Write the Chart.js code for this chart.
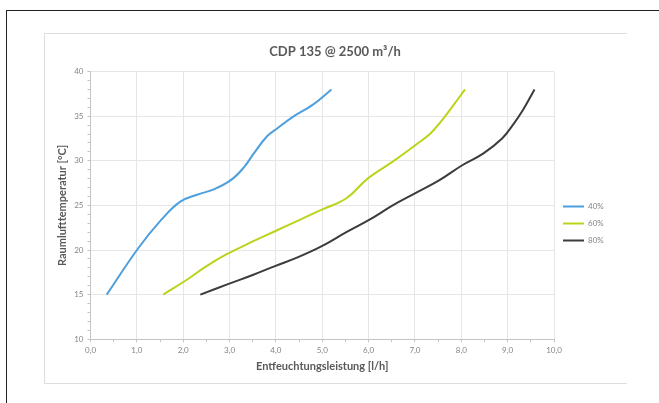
<!doctype html>
<html>
    <head>
        <meta charset="utf-8" />
        <title>CDP 135 @ 2500 m³/h</title>
        <script src="https://cdn.jsdelivr.net/npm/chart.js"></script>
        <style>
            html,
            body {
                margin: 0;
                padding: 0;
                background: #fff;
            }
            body {
                position: relative;
                width: 659px;
                height: 403px;
                overflow: hidden;
            }
            #frame {
                position: absolute;
                left: 6px;
                top: 10px;
                width: 700px;
                height: 500px;
                border-left: 1.5px solid #222;
                border-top: 1.5px solid #222;
            }
            #box {
                position: absolute;
                left: 44px;
                top: 33px;
                width: 582px;
                height: 349px;
                border-top: 1px solid #dedede;
                border-left: 1px solid #dedede;
                border-bottom: 1px solid #dedede;
            }
            #chart {
                position: absolute;
                left: 44px;
                top: 33px;
            }
        </style>
    </head>
    <body>
        <div id="frame"></div>
        <div id="box"></div>
        <canvas id="chart" width="582" height="351"></canvas>
        <script>
            // values
            const titleText = "CDP 135 @ 2500 m³/h";
            const xTitle = "Entfeuchtungsleistung [l/h]";
            const yTitle = "Raumlufttemperatur [°C]";

            const seriesNames = ["40%", "60%", "80%"];
            const seriesColors = ["#4d9fdd", "#bcd31a", "#3c3c3e"];

            const x40 = [0.35, 1.03, 1.53, 1.93, 2.3, 2.66, 3.02, 3.3, 3.52, 3.8, 4.02, 4.39, 4.8, 5.2];
            const y40 = [15, 20.2, 23.4, 25.4, 26.2, 26.8, 27.8, 29.2, 30.8, 32.7, 33.6, 35, 36.3, 38];

            const x60 = [1.57, 2.03, 2.48, 2.93, 3.48, 3.98, 4.48, 4.98, 5.52, 5.98, 6.52, 7.02, 7.34, 7.56, 7.84, 8.08];
            const y60 = [15, 16.5, 18.1, 19.5, 20.9, 22.1, 23.3, 24.5, 25.8, 28, 29.9, 31.8, 33.1, 34.4, 36.3, 38];

            const x80 = [2.37, 2.98, 3.5, 3.98, 4.48, 4.98, 5.52, 6.02, 6.52, 7.02, 7.52, 8.02, 8.47, 8.88, 9.11, 9.33, 9.58];
            const y80 = [15, 16.2, 17.2, 18.2, 19.2, 20.4, 22, 23.4, 25, 26.4, 27.8, 29.5, 30.8, 32.5, 34, 35.7, 38];

            const xMin = 0, xMax = 10, xMajor = 1, xMinor = 0.5;
            const yMin = 10, yMax = 40, yMajor = 5, yMinor = 1;

            const allX = [x40, x60, x80];
            const allY = [y40, y60, y80];

            const isMajor = (v, step) => Math.abs(v / step - Math.round(v / step)) < 1e-9;
            const gridColor = "#e6e6e6";
            const axisColor = "#c4c4c4";
            const tickText = "#858585";
            const titleColor = "#595959";

            Chart.defaults.font.family = "Lato, 'Open Sans', sans-serif";

            const ctx = document.getElementById("chart").getContext("2d");
            const chart = new Chart(ctx, {
                type: "scatter",
                data: {
                    datasets: seriesNames.map((name, i) => ({
                        label: name,
                        data: allX[i].map((x, j) => ({ x: x, y: allY[i][j] })),
                        showLine: true,
                        borderColor: seriesColors[i],
                        backgroundColor: seriesColors[i],
                        borderWidth: 2,
                        pointRadius: 0,
                        tension: 0.4,
                    })),
                },
                options: {
                    responsive: false,
                    animation: false,
                    layout: {
                        padding: { left: 0, right: 0, top: 0, bottom: 11 },
                    },
                    plugins: {
                        title: {
                            display: true,
                            text: titleText,
                            color: titleColor,
                            font: { size: 13, weight: "bold" },
                            padding: { top: 11, bottom: 12 },
                        },
                        legend: {
                            position: "right",
                            title: {
                                display: true,
                                text: "",
                                font: { size: 1 },
                                padding: { top: 40, bottom: 0 },
                            },
                            labels: {
                                usePointStyle: true,
                                pointStyle: "line",
                                pointStyleWidth: 21,
                                padding: 9,
                                color: tickText,
                                font: { size: 8 },
                            },
                        },
                        tooltip: { enabled: false },
                    },
                    scales: {
                        x: {
                            type: "linear",
                            min: xMin,
                            max: xMax,
                            border: { color: axisColor },
                            grid: {
                                color: (c) =>
                                    c.tick && isMajor(c.tick.value, xMajor) ? gridColor : "rgba(0,0,0,0)",
                                tickColor: axisColor,
                                tickLength: 3,
                            },
                            ticks: {
                                stepSize: xMinor,
                                autoSkip: false,
                                maxRotation: 0,
                                padding: 3,
                                color: tickText,
                                font: { size: 8 },
                                callback: (v) =>
                                    isMajor(v, xMajor) ? v.toFixed(1).replace(".", ",") : "",
                            },
                            title: {
                                display: true,
                                text: xTitle,
                                color: titleColor,
                                font: { size: 11, weight: "bold" },
                                padding: { top: 2, bottom: 0 },
                            },
                            afterFit: (s) => {
                                // keep a gap between the plot and the legend
                                s.paddingRight = 72;
                            },
                        },
                        y: {
                            min: yMin,
                            max: yMax,
                            border: { color: axisColor },
                            grid: {
                                color: (c) =>
                                    c.tick && isMajor(c.tick.value, yMajor) ? gridColor : "rgba(0,0,0,0)",
                                tickColor: axisColor,
                                tickLength: 3,
                            },
                            ticks: {
                                stepSize: yMinor,
                                autoSkip: false,
                                padding: 4,
                                color: tickText,
                                font: { size: 8 },
                                callback: (v) => (isMajor(v, yMajor) ? String(v) : ""),
                            },
                            title: {
                                display: true,
                                text: yTitle,
                                color: titleColor,
                                font: { size: 11, weight: "bold" },
                                padding: { top: 12, bottom: 1 },
                            },
                        },
                    },
                },
            });
        </script>
    </body>
</html>
